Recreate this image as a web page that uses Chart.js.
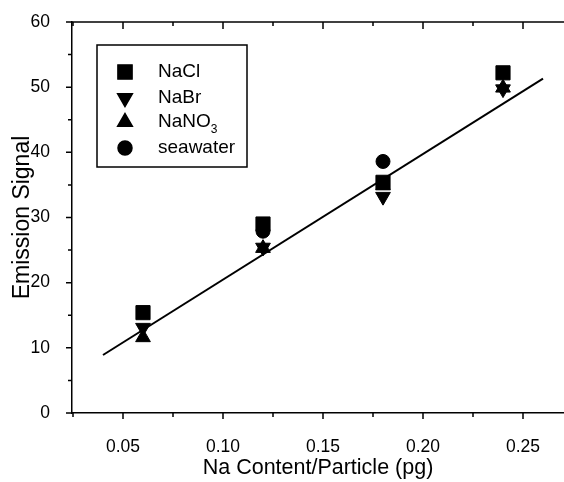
<!DOCTYPE html>
<html>
<head>
<meta charset="utf-8">
<script src="https://cdn.jsdelivr.net/npm/chart.js@4/dist/chart.umd.min.js"></script>
<style>
  html, body { margin: 0; padding: 0; background: #fff; }
  #wrap { width: 564px; height: 482px; }
</style>
</head>
<body>
<div id="wrap"><canvas id="chart" width="564" height="482"></canvas></div>
<script>
// values
var naContent = [0.06, 0.12, 0.18, 0.24];
var naCl = [15.4, 29.0, 35.4, 52.2];
var naBr = [13.1, 25.4, 33.2, 49.7];
var naNO3 = [11.6, 25.3, 34.9, 49.9];
var seawater = [null, 27.9, 38.6, null];
var fitX = [0.04, 0.26];
var fitY = [8.9, 51.3];
var xTicks = [0.05, 0.10, 0.15, 0.20, 0.25];
var xMinor = [0.025, 0.075, 0.125, 0.175, 0.225];
var yTicks = [0, 10, 20, 30, 40, 50, 60];
var yMinor = [5, 15, 25, 35, 45, 55];

var FONT = "'Liberation Sans', Arial, sans-serif";

function pairs(xs, ys) {
    var out = [];
    for (let i = 0; i < xs.length; i++) {
        if (ys[i] !== null) out.push({ x: xs[i], y: ys[i] });
    }
    return out;
}

function series(label, ys, style, radius, rotation) {
    return {
        type: 'scatter',
        label: label,
        data: pairs(naContent, ys),
        pointStyle: style,
        pointRadius: radius,
        pointHoverRadius: radius,
        pointRotation: rotation,
        backgroundColor: '#000',
        borderColor: '#000',
        borderWidth: 1
    };
}

// axis ticks (outward on left/bottom, inward on top) and the boxed legend
var framePlugin = {
    id: 'frame',
    afterDraw(chart) {
        var ctx = chart.ctx;
        var xs = chart.scales.x, ys = chart.scales.y;
        var a = chart.chartArea;
        ctx.save();
        ctx.strokeStyle = '#000';
        ctx.lineWidth = 1.5;

        // top axis line
        ctx.beginPath();
        ctx.moveTo(a.left, a.top);
        ctx.lineTo(a.right, a.top);
        ctx.stroke();

        ctx.beginPath();
        xTicks.forEach(v => {
            let px = xs.getPixelForValue(v);
            ctx.moveTo(px, a.bottom); ctx.lineTo(px, a.bottom + 6);
            ctx.moveTo(px, a.top); ctx.lineTo(px, a.top + 7);
        });
        xMinor.forEach(v => {
            let px = xs.getPixelForValue(v);
            ctx.moveTo(px, a.bottom); ctx.lineTo(px, a.bottom + 4);
            ctx.moveTo(px, a.top); ctx.lineTo(px, a.top + 4);
        });
        yTicks.forEach(v => {
            let py = ys.getPixelForValue(v);
            ctx.moveTo(a.left, py); ctx.lineTo(a.left - 6, py);
        });
        yMinor.forEach(v => {
            let py = ys.getPixelForValue(v);
            ctx.moveTo(a.left, py); ctx.lineTo(a.left - 4, py);
        });
        ctx.stroke();

        // legend box
        ctx.lineWidth = 1.5;
        ctx.strokeRect(97, 45, 150, 122);
        var rows = [72, 98, 122, 148];
        var sets = chart.data.datasets.slice(0, 4);
        sets.forEach((ds, i) => {
            Chart.helpers.drawPoint(ctx, {
                pointStyle: ds.pointStyle,
                radius: ds.pointRadius,
                rotation: ds.pointRotation,
                borderWidth: 1
            }, 125, rows[i]);
            ctx.fillStyle = '#000';
            ctx.fill();
            ctx.font = '19px ' + FONT;
            ctx.textBaseline = 'middle';
            ctx.textAlign = 'left';
            if (ds.label === 'NaNO3') {
                ctx.fillText('NaNO', 158, rows[i]);
                let w = ctx.measureText('NaNO').width;
                ctx.font = '12px ' + FONT;
                ctx.fillText('3', 158 + w, rows[i] + 8);
            } else {
                ctx.fillText(ds.label, 158, rows[i]);
            }
        });
        ctx.restore();
    }
};

var datasets = [
    series('NaCl', naCl, 'rect', 10, 0),
    series('NaBr', naBr, 'triangle', 8.5, 180),
    series('NaNO3', naNO3, 'triangle', 8.5, 0),
    series('seawater', seawater, 'circle', 7, 0),
    {
        type: 'line',
        label: 'fit',
        data: pairs(fitX, fitY),
        borderColor: '#000',
        borderWidth: 2,
        pointRadius: 0,
        fill: false
    }
];

var Ctx = document.getElementById('chart');
var chart1 = new Chart(Ctx, {
    type: 'scatter',
    data: { datasets: datasets },
    options: {
        responsive: false,
        animation: false,
        layout: { autoPadding: false, padding: { top: 22, right: 0, left: 0, bottom: 0 } },
        plugins: {
            legend: { display: false },
            tooltip: { enabled: false }
        },
        scales: {
            x: {
                type: 'linear',
                min: 0.0245,
                max: 0.2705,
                afterBuildTicks: s => { s.ticks = xTicks.map(v => ({ value: v })); },
                afterFit: s => {
                    s.height = 69;
                    s.paddingLeft = 0;
                    s.paddingRight = 0;
                },
                grid: { display: false },
                border: { display: true, color: '#000', width: 1.5 },
                ticks: {
                    color: '#000',
                    padding: 16,
                    font: { family: FONT, size: 17.5 },
                    callback: v => v.toFixed(2)
                },
                title: {
                    display: true,
                    text: 'Na Content/Particle (pg)',
                    color: '#000',
                    font: { family: FONT, size: 21.5 },
                    padding: { top: 0, bottom: 1 }
                }
            },
            y: {
                type: 'linear',
                min: 0,
                max: 60,
                afterBuildTicks: s => { s.ticks = yTicks.map(v => ({ value: v })); },
                afterFit: s => {
                    s.width = 72;
                    s.paddingTop = 0;
                    s.paddingBottom = 0;
                },
                grid: { display: false },
                border: { display: true, color: '#000', width: 1.5 },
                ticks: {
                    color: '#000',
                    padding: 14,
                    font: { family: FONT, size: 17.5 }
                },
                title: {
                    display: true,
                    text: 'Emission Signal',
                    color: '#000',
                    font: { family: FONT, size: 23 },
                    padding: { top: 9, bottom: 0 }
                }
            }
        }
    },
    plugins: [framePlugin]
});
</script>
</body>
</html>
